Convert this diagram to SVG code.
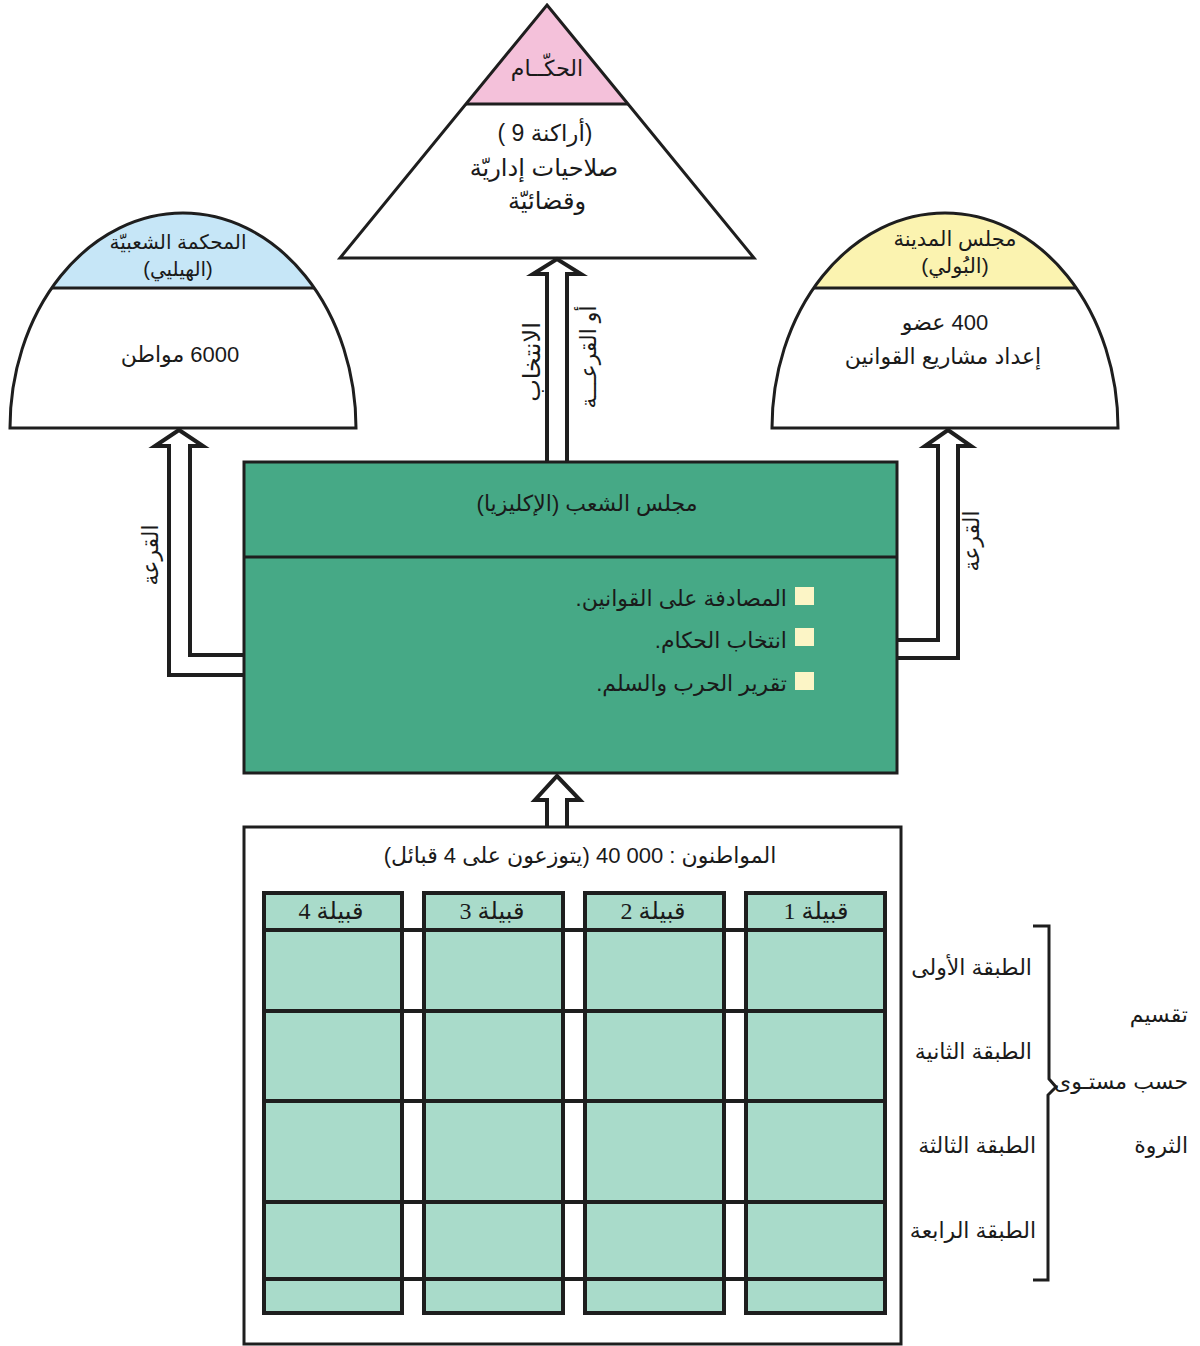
<svg xmlns="http://www.w3.org/2000/svg" width="1200" height="1346" viewBox="0 0 1200 1346">
<style>
.t{font-family:"Liberation Sans","DejaVu Sans",sans-serif;font-size:22px;fill:#1a1a1a;direction:rtl;unicode-bidi:embed;text-anchor:middle;dominant-baseline:central}
.s{font-family:"Liberation Serif","DejaVu Sans",serif;font-size:24px;fill:#1a1a1a;direction:rtl;unicode-bidi:embed;text-anchor:middle;dominant-baseline:central}
.ln{stroke:#1e1e1e;stroke-width:3;fill:none}
.arr{stroke:#1e1e1e;stroke-width:4;fill:#fff;stroke-linejoin:miter}
.col{fill:#a9dbca;stroke:#1e1e1e;stroke-width:4}
.bul{fill:#fcf5c6}
</style>
<rect x="0" y="0" width="1200" height="1346" fill="#fff"/>

<g id="connectors">
<path class="arr" d="M547,462 L547,274 L533,274 L557,259 L581,274 L567,274 L567,462"/>
<path class="arr" d="M244,675 L169,675 L169,446 L155,446 L179,430 L203,446 L190,446 L190,655 L244,655"/>
<path class="arr" d="M897,658 L958,658 L958,446 L971,446 L948,430 L925,446 L938,446 L938,640 L897,640"/>
<path class="arr" d="M547,827 L547,800 L535,800 L557,776 L580,800 L567,800 L567,827"/>
<text class="t" transform="translate(531,362) rotate(-90)" style="font-size:24px">الانتخاب</text>
<text class="t" transform="translate(588,357) rotate(-90)">أو القرعـــة</text>
<text class="t" transform="translate(150,555) rotate(-90)">القرعة</text>
<text class="t" transform="translate(971,541) rotate(-90)">القرعة</text>
</g>

<g id="archons">
<path d="M547,5 L628,104 L466,104 Z" fill="#f4c1da"/>
<path class="ln" d="M547,5 L754,258 L340,258 Z"/>
<line class="ln" x1="466" y1="104" x2="628" y2="104"/>
<text class="t" x="547" y="68" style="font-size:22px">الحكّــام</text>
<text class="t" x="545" y="133" style="font-size:23px">(أراكنة 9 )</text>
<text class="t" x="544" y="167" style="font-size:24px">صلاحيات إداريّة</text>
<text class="t" x="547" y="200" style="font-size:24px">وقضائيّة</text>
</g>

<g id="heliaia">
<path d="M51.7,288 A173,215 0 0 1 314.3,288 Z" fill="#c6e6f7"/>
<path class="ln" d="M10,428 A173,215 0 0 1 356,428 Z"/>
<line class="ln" x1="51.7" y1="288" x2="314.3" y2="288"/>
<text class="t" x="178" y="242" style="font-size:20px">المحكمة الشعبيّة</text>
<text class="t" x="178" y="269" style="font-size:20px">(الهيليي)</text>
<text class="t" x="180" y="354">6000 مواطن</text>
</g>

<g id="boule">
<path d="M813.7,288 A173,215 0 0 1 1076.3,288 Z" fill="#fbf3b0"/>
<path class="ln" d="M772,428 A173,215 0 0 1 1118,428 Z"/>
<line class="ln" x1="813.7" y1="288" x2="1076.3" y2="288"/>
<text class="t" x="955" y="238" style="font-size:21px">مجلس المدينة</text>
<text class="t" x="955" y="265" style="font-size:21px">(البُولي)</text>
<text class="t" x="945" y="322">400 عضو</text>
<text class="t" x="943" y="356">إعداد مشاريع القوانين</text>
</g>

<g id="ecclesia">
<rect x="244" y="462" width="653" height="311" fill="#46a986" stroke="#1e1e1e" stroke-width="3"/>
<line class="ln" x1="244" y1="557" x2="897" y2="557"/>
<text class="t" x="587" y="503">مجلس الشعب (الإكليزيا)</text>
<rect class="bul" x="795" y="587" width="19" height="18"/>
<rect class="bul" x="795" y="628" width="19" height="18"/>
<rect class="bul" x="795" y="672" width="19" height="18"/>
<text class="t" x="787" y="598" style="text-anchor:start">المصادفة على القوانين.</text>
<text class="t" x="787" y="640" style="text-anchor:start">انتخاب الحكام.</text>
<text class="t" x="787" y="683" style="text-anchor:start">تقرير الحرب والسلم.</text>
</g>

<g id="citizens">
<rect x="244" y="827" width="657" height="517" fill="#fff" stroke="#1e1e1e" stroke-width="3"/>
<text class="t" x="580" y="855">المواطنون : 000 40 (يتوزعون على 4 قبائل)</text>
<rect class="col" x="264" y="893" width="138" height="420"/>
<rect class="col" x="424" y="893" width="139" height="420"/>
<rect class="col" x="585" y="893" width="139" height="420"/>
<rect class="col" x="746" y="893" width="139" height="420"/>
<g stroke="#1e1e1e" stroke-width="4">
<line x1="264" y1="930" x2="885" y2="930"/>
<line x1="264" y1="1011" x2="885" y2="1011"/>
<line x1="264" y1="1101" x2="885" y2="1101"/>
<line x1="264" y1="1202" x2="885" y2="1202"/>
<line x1="264" y1="1279" x2="885" y2="1279"/>
</g>
<text class="s" x="331" y="911">قبيلة 4</text>
<text class="s" x="492" y="911">قبيلة 3</text>
<text class="s" x="653" y="911">قبيلة 2</text>
<text class="s" x="816" y="911">قبيلة 1</text>
</g>

<g id="classes">
<text class="t" x="1032" y="967" style="text-anchor:start">الطبقة الأولى</text>
<text class="t" x="1032" y="1051" style="text-anchor:start">الطبقة الثانية</text>
<text class="t" x="1036" y="1145" style="text-anchor:start">الطبقة الثالثة</text>
<text class="t" x="1036" y="1230" style="text-anchor:start">الطبقة الرابعة</text>
<path class="ln" d="M1033,926 L1049,926 L1049,1079 L1056,1087 L1048,1095 L1048,1280 L1033,1280"/>
<text class="t" x="1188" y="1014" style="text-anchor:start">تقسيم</text>
<text class="t" x="1188" y="1081" style="text-anchor:start">حسب مستـوى</text>
<text class="t" x="1188" y="1145" style="text-anchor:start">الثروة</text>
</g>
</svg>
